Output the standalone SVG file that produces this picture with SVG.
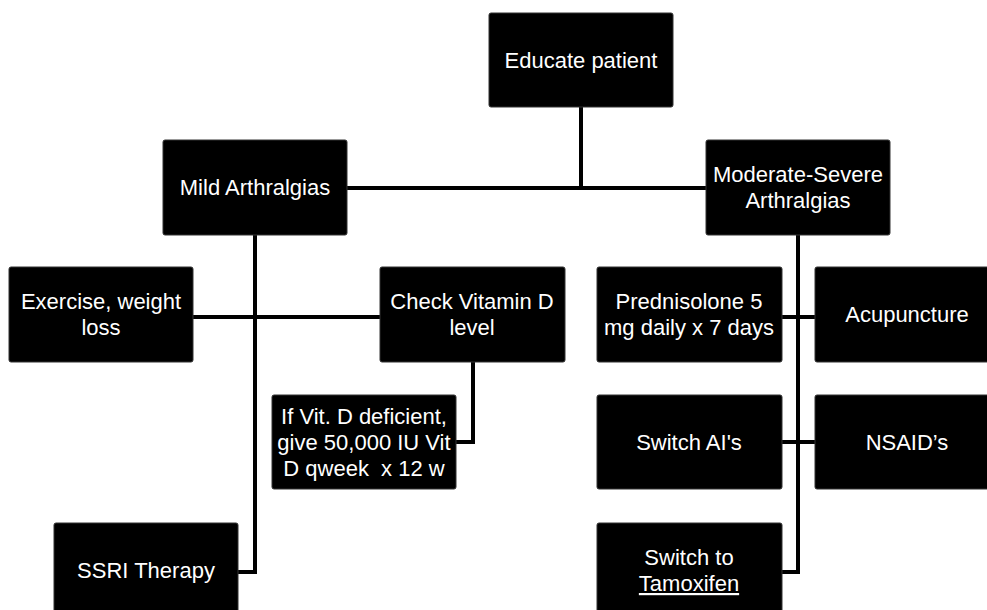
<svg xmlns="http://www.w3.org/2000/svg" width="987" height="610" viewBox="0 0 987 610">
<style>
.box{fill:#000;stroke:#333;stroke-width:1}
.t{font-family:"Liberation Sans",Arial,sans-serif;font-size:22px;fill:#fff;text-anchor:middle;white-space:pre}
.c{fill:none;stroke:#000;stroke-width:4}
</style>
<rect width="987" height="610" fill="#fff"/>
<g id="connectors">
<path class="c" d="M581,107V188"/>
<path class="c" d="M347,188H706"/>
<path class="c" d="M255,235V572H238"/>
<path class="c" d="M193,317H380"/>
<path class="c" d="M473,362V442H456"/>
<path class="c" d="M798,235V572H782"/>
<path class="c" d="M782,317H815"/>
<path class="c" d="M782,442H815"/>
</g>
<g id="educate"><rect class="box" x="489" y="13" width="184" height="94" rx="2"/><text class="t" x="581" y="68">Educate patient</text></g>
<g id="mild"><rect class="box" x="163" y="140" width="184" height="95" rx="2"/><text class="t" x="255" y="195">Mild Arthralgias</text></g>
<g id="moderate"><rect class="box" x="706" y="140" width="184" height="95" rx="2"/><text class="t" x="798" y="182">Moderate-Severe</text><text class="t" x="798" y="208">Arthralgias</text></g>
<g id="exercise"><rect class="box" x="9" y="267" width="184" height="95" rx="2"/><text class="t" x="101" y="309">Exercise, weight</text><text class="t" x="101" y="335">loss</text></g>
<g id="vitd"><rect class="box" x="380" y="267" width="185" height="95" rx="2"/><text class="t" x="472" y="309">Check Vitamin D</text><text class="t" x="472" y="335">level</text></g>
<g id="prednisolone"><rect class="box" x="597" y="267" width="185" height="95" rx="2"/><text class="t" x="689" y="309">Prednisolone 5</text><text class="t" x="689" y="335">mg daily x 7 days</text></g>
<g id="acupuncture"><rect class="box" x="815" y="267" width="184" height="95" rx="2"/><text class="t" x="907" y="322">Acupuncture</text></g>
<g id="vitdgive"><rect class="box" x="272" y="395" width="184" height="94" rx="2"/><text class="t" x="364" y="424">If Vit. D deficient,</text><text class="t" x="364" y="450">give 50,000 IU Vit</text><text class="t" x="364" y="476">D qweek  x 12 w</text></g>
<g id="switchai"><rect class="box" x="597" y="395" width="185" height="94" rx="2"/><text class="t" x="689" y="450">Switch AI's</text></g>
<g id="nsaid"><rect class="box" x="815" y="395" width="184" height="94" rx="2"/><text class="t" x="907" y="450">NSAID’s</text></g>
<g id="ssri"><rect class="box" x="54" y="523" width="184" height="95" rx="2"/><text class="t" x="146" y="578">SSRI Therapy</text></g>
<g id="tamoxifen"><rect class="box" x="597" y="523" width="185" height="95" rx="2"/><text class="t" x="689" y="565">Switch to</text><text class="t" x="689" y="591" text-decoration="underline">Tamoxifen</text></g>
</svg>
